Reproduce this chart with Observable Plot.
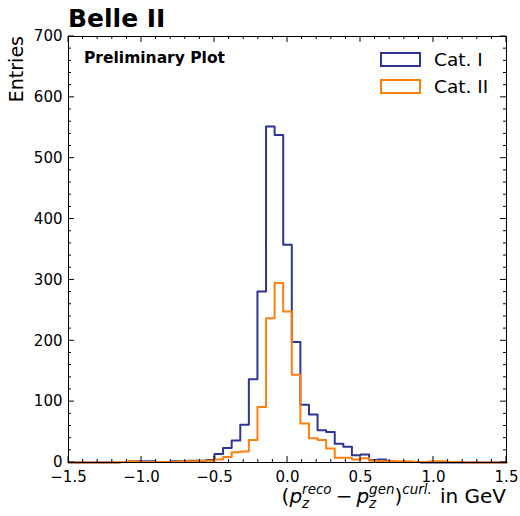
<!DOCTYPE html>
<html>
<head>
<meta charset="utf-8">
<script src="https://cdn.jsdelivr.net/npm/d3@7"></script>
<script src="https://cdn.jsdelivr.net/npm/@observablehq/plot@0.6"></script>
<style>
  body { margin: 0; background: #fff; }
  svg { font-family: "DejaVu Sans", sans-serif; }
</style>
</head>
<body>
<div id="chart"></div>
<script>
// Histogram binning: 51 equal bins spanning [-1.5, 1.5] GeV
const binLow = -1.5;
const binHigh = 1.5;

// Entries per bin, Category I
const catI = [
  0, 0, 0, 0, 0, 0, 1, 2, 2, 2,
  1, 1, 2, 2, 3, 3, 4, 14, 24, 36,
  62, 137, 281, 552, 538, 358, 198, 95, 79, 53,
  50, 31, 26, 12, 13, 4, 5, 2, 1, 1,
  1, 0, 0, 0, 0, 0, 0, 0, 0, 0, 0
];

// Entries per bin, Category II
const catII = [
  0, 0, 0, 0, 0, 0, 1, 2, 1, 1,
  1, 1, 1, 2, 2, 3, 3, 5, 9, 17,
  18, 37, 91, 237, 295, 248, 144, 64, 40, 37,
  23, 8, 8, 5, 7, 3, 2, 2, 2, 2,
  1, 1, 2, 2, 1, 1, 0, 0, 0, 0, 0
];

const seriesNames = ["Cat. I", "Cat. II"];
const seriesColors = ["#2e3595", "#ff7f0e"];

const xMajor = [-1.5, -1.0, -0.5, 0.0, 0.5, 1.0, 1.5];
const xMinor = [-1.4, -1.3, -1.2, -1.1, -0.9, -0.8, -0.7, -0.6, -0.4, -0.3, -0.2, -0.1,
                0.1, 0.2, 0.3, 0.4, 0.6, 0.7, 0.8, 0.9, 1.1, 1.2, 1.3, 1.4];
const yMajor = [0, 100, 200, 300, 400, 500, 600, 700];
const yMinor = [20, 40, 60, 80, 120, 140, 160, 180, 220, 240, 260, 280, 320, 340, 360, 380,
                420, 440, 460, 480, 520, 540, 560, 580, 620, 640, 660, 680];

// Outline of a step histogram: up from the baseline, across every bin, back down
function stepOutline(counts) {
  const w = (binHigh - binLow) / counts.length;
  const pts = [{x: binLow, y: 0}];
  counts.forEach((c, i) => {
    pts.push({x: binLow + i * w, y: c});
    pts.push({x: binLow + (i + 1) * w, y: c});
  });
  pts.push({x: binHigh, y: 0});
  return pts;
}

const W = 520, H = 516;
const mL = 68, mR = 14, mT = 36, mB = 54;
const fmtX = d3.format(".1f");

const chart = Plot.plot({
  width: W,
  height: H,
  marginLeft: mL,
  marginRight: mR,
  marginTop: mT,
  marginBottom: mB,
  style: {fontFamily: "DejaVu Sans", fontSize: "14px", color: "#000", background: "#fff"},
  x: {domain: [binLow, binHigh]},
  y: {domain: [0, 700]},
  marks: [
    Plot.line(stepOutline(catI), {x: "x", y: "y", stroke: seriesColors[0], strokeWidth: 2}),
    Plot.line(stepOutline(catII), {x: "x", y: "y", stroke: seriesColors[1], strokeWidth: 2}),
    Plot.frame({stroke: "#000", strokeWidth: 1}),
    // tick labels
    Plot.axisX(xMajor, {anchor: "bottom", tickSize: 0, tickPadding: 9, tickFormat: d => fmtX(d), fontSize: 15, label: null}),
    Plot.axisY(yMajor, {anchor: "left", tickSize: 0, tickPadding: 6, tickFormat: d => String(d), fontSize: 15, label: null})
  ]
});

document.getElementById("chart").appendChild(chart);

const svg = d3.select(chart);
const sx = chart.scale("x"), sy = chart.scale("y");
const [x0, x1] = sx.range, [y0, y1] = sy.range; // y0 bottom, y1 top

// Inward-pointing ticks on all four sides of the frame
const ticks = svg.append("g").attr("stroke", "#000").attr("stroke-width", 1);
function xTicks(values, len) {
  values.forEach(v => {
    const px = sx.apply(v);
    ticks.append("line").attr("x1", px).attr("x2", px).attr("y1", y0).attr("y2", y0 - len);
    ticks.append("line").attr("x1", px).attr("x2", px).attr("y1", y1).attr("y2", y1 + len);
  });
}
function yTicks(values, len) {
  values.forEach(v => {
    const py = sy.apply(v);
    ticks.append("line").attr("y1", py).attr("y2", py).attr("x1", x0).attr("x2", x0 + len);
    ticks.append("line").attr("y1", py).attr("y2", py).attr("x1", x1).attr("x2", x1 - len);
  });
}
xTicks(xMajor, 6); xTicks(xMinor, 3);
yTicks(yMajor, 6); yTicks(yMinor, 3);

function label(sel) {
  return sel.attr("font-family", "DejaVu Sans").attr("fill", "#000").attr("text-anchor", "start");
}

// Experiment label
label(svg.append("text"))
  .attr("x", mL).attr("y", 27)
  .attr("font-weight", "bold").attr("font-size", 25)
  .text("Belle II");

// Plot status tag
label(svg.append("text"))
  .attr("x", 84).attr("y", 63)
  .attr("font-weight", "bold").attr("font-size", 15.5)
  .text("Preliminary Plot");

// y-axis title, aligned to the top of the axis
label(svg.append("text"))
  .attr("transform", `translate(23,${mT}) rotate(-90)`)
  .attr("text-anchor", "end")
  .attr("font-size", 19)
  .text("Entries");

// Legend
const legend = svg.append("g");
seriesNames.forEach((name, i) => {
  const ly = 53 + i * 27;
  legend.append("rect")
    .attr("x", 381).attr("y", ly).attr("width", 39).attr("height", 13)
    .attr("fill", "none").attr("stroke", seriesColors[i]).attr("stroke-width", 2);
  label(legend.append("text"))
    .attr("x", 434).attr("y", ly + 13)
    .attr("font-size", 18.5)
    .text(name);
});

// x-axis title in math style: stacked sub/superscripts, laid out right to left
// from the right end of the x axis
const base = 20, script = 13.5;
const supDy = -9, subDy = 5;
const items = [
  {t: "("},
  {t: "p", italic: true},
  {stack: ["z", "reco"]},
  {gap: 4},
  {t: "−"},
  {gap: 4},
  {t: "p", italic: true},
  {stack: ["z", "gen"]},
  {t: ")"},
  {t: "curl.", italic: true, script: true, dy: supDy},
  {gap: 8},
  {t: "in GeV"}
];
const baseline = 503;
const xLabel = svg.append("g");
function piece(t, size, italic, dy) {
  return label(xLabel.append("text"))
    .attr("y", baseline + (dy || 0))
    .attr("font-size", size)
    .attr("font-style", italic ? "italic" : "normal")
    .text(t);
}
let cursor = x1;
items.slice().reverse().forEach(it => {
  if (it.gap) { cursor -= it.gap; return; }
  if (it.stack) {
    const sub = piece(it.stack[0], script, true, subDy);
    const sup = piece(it.stack[1], script, true, supDy);
    const w = Math.max(sub.node().getComputedTextLength(), sup.node().getComputedTextLength());
    cursor -= w;
    sub.attr("x", cursor);
    sup.attr("x", cursor);
    return;
  }
  const el = piece(it.t, it.script ? script : base, it.italic, it.dy)
    .attr("text-anchor", "end")
    .attr("x", cursor);
  cursor -= el.node().getComputedTextLength();
});
</script>
</body>
</html>
